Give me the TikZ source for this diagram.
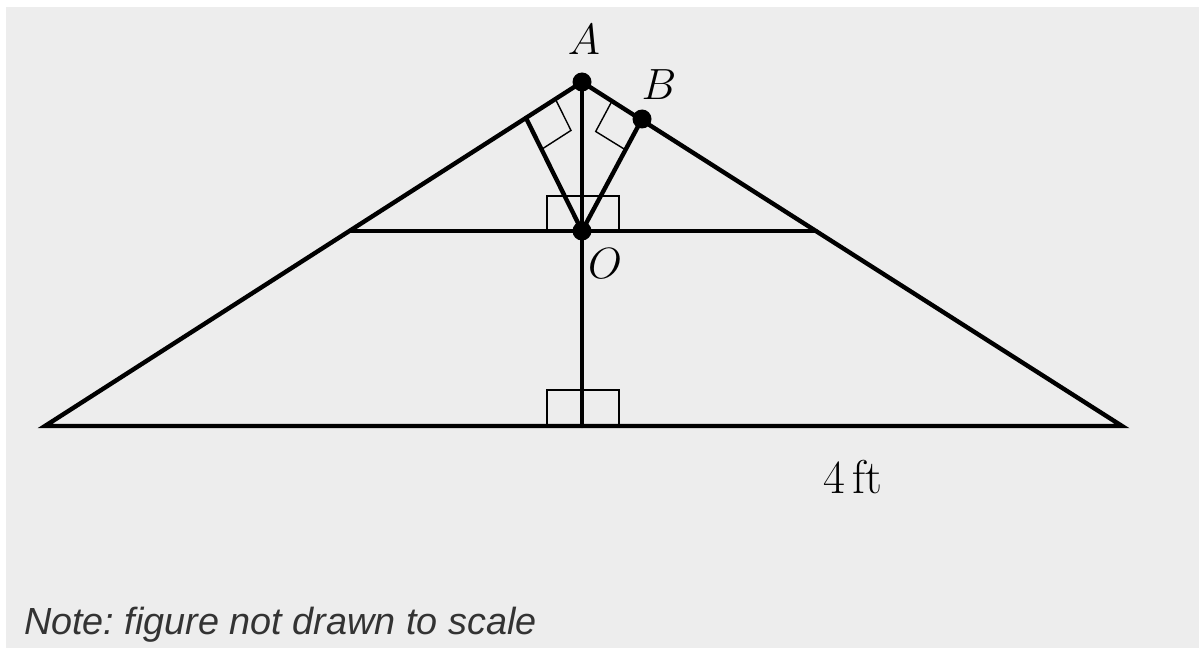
\documentclass[tikz,border=0pt]{standalone}
\usepackage{fontspec}
\newfontfamily\notefont{Liberation Sans}
\usetikzlibrary{calc}
\frenchspacing

\begin{document}
\begin{tikzpicture}[x=0.02cm, y=-0.02cm]
\tikzset{
  edge/.style={line width=2.5pt, black, line cap=round},
  rmark/.style={line width=0.8pt, black},
  dot/.style={circle, fill=black, inner sep=0pt, minimum size=0.38cm},
  ptlabel/.style={font=\fontsize{27}{31}\selectfont},
  notelabel/.style={font=\notefont\itshape\fontsize{21.5}{26}\selectfont, text=black!80, anchor=base west},
}
\def\rs{0.7cm}           % right-angle mark size

% ---- background ----
\fill[white] (0,0) rectangle (1199,648);
\fill[black!7] (6,7) rectangle (1199,648);

% ---- points ----
\coordinate (A) at (582,82);
\coordinate (B) at (642,119);
\coordinate (O) at (582,231);
\coordinate (F) at (526,118);    % foot on left side
\coordinate (L) at (45,426);
\coordinate (R) at (1122,426);
\coordinate (M) at (582,426);
\coordinate (ml) at (350,231);
\coordinate (mr) at (816,231);

% ---- right-angle marks ----
\draw[rmark] (547,196) rectangle (619,231);
\draw[rmark] (547,390) rectangle (619,426);
\coordinate (fa) at ($(F)!\rs!(A)$);
\coordinate (fo) at ($(F)!\rs!(O)$);
\draw[rmark] (fa) -- ($(fa)+(fo)-(F)$) -- (fo);
\coordinate (ba) at ($(B)!\rs!(A)$);
\coordinate (bo) at ($(B)!\rs!(O)$);
\draw[rmark] (ba) -- ($(ba)+(bo)-(B)$) -- (bo);

% ---- triangle and segments ----
\draw[edge] (L) -- (A) -- (R) -- cycle;
\draw[edge] (A) -- (M);
\draw[edge] (ml) -- (mr);
\draw[edge] (F) -- (O) -- (B);

% ---- dots ----
\node[dot] (nA) at (A) {};
\node[dot] (nB) at (B) {};
\node[dot] (nO) at (O) {};

% ---- labels ----
\node[ptlabel] (lA) at (584,40) {$A$};
\node[ptlabel] (lB) at (659,85) {$B$};
\node[ptlabel] (lO) at (605,264) {$O$};
\node[ptlabel, anchor=base] (lft) at (853,493) {4\,ft};
\node[notelabel] (note) at (18,634) {Note: figure not drawn to scale};

\end{tikzpicture}
\end{document}
